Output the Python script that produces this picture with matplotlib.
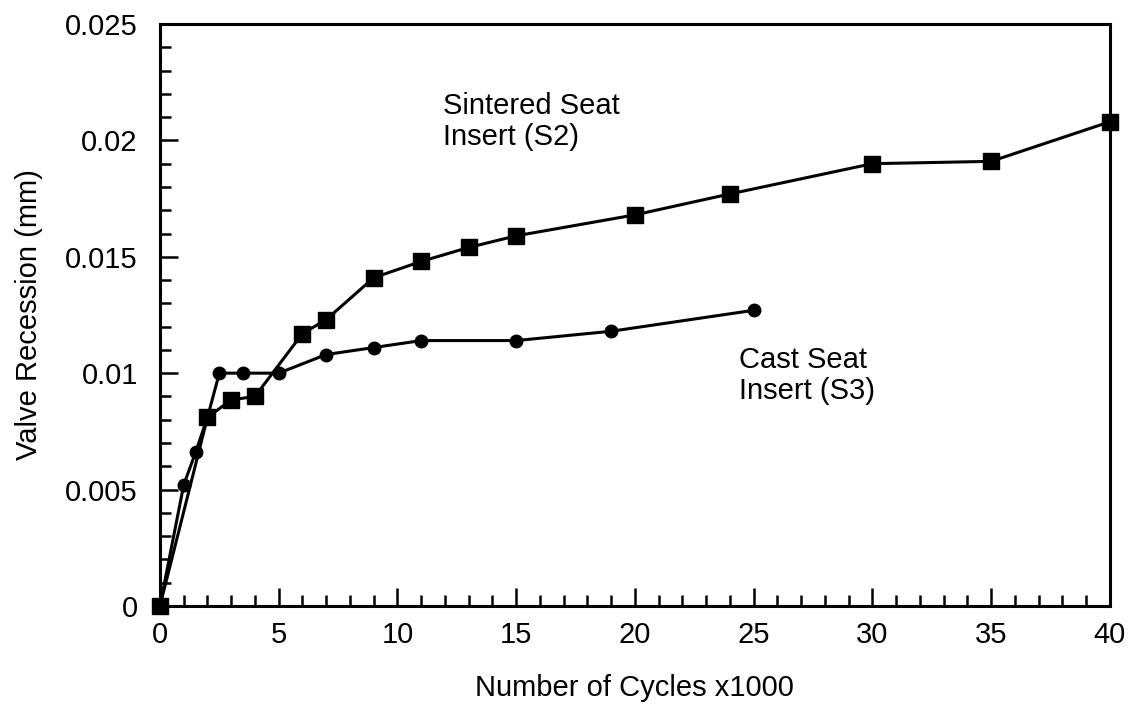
import matplotlib
matplotlib.use("Agg")
import matplotlib.pyplot as plt
from matplotlib.ticker import MultipleLocator, FuncFormatter

plt.rcParams["font.family"] = ["Liberation Sans", "DejaVu Sans"]

# Sintered seat insert (S2), squares
s2_cycles = [0, 2, 3, 4, 6, 7, 9, 11, 13, 15, 20, 24, 30, 35, 40]
s2_recession = [0, 0.0081, 0.00885, 0.0090, 0.0117, 0.0123, 0.0141, 0.0148,
                0.0154, 0.0159, 0.0168, 0.0177, 0.0190, 0.0191, 0.0208]

# Cast seat insert (S3), circles
s3_cycles = [0, 1, 1.5, 2, 2.5, 3.5, 5, 7, 9, 11, 15, 19, 25]
s3_recession = [0, 0.0052, 0.0066, 0.0081, 0.0100, 0.0100, 0.0100, 0.0108,
                0.0111, 0.0114, 0.0114, 0.0118, 0.0127]

fig = plt.figure(figsize=(11.29, 7.07), dpi=100)
ax = fig.add_axes([0.1417, 0.143, 0.8413, 0.823])

ax.plot(s2_cycles, s2_recession, color="black", lw=2.2, marker="s", ms=11,
        clip_on=False, zorder=3)
ax.plot(s3_cycles, s3_recession, color="black", lw=2.2, marker="o", ms=9,
        clip_on=False, zorder=3)

ax.set_xlim(0, 40)
ax.set_ylim(0, 0.025)
ax.xaxis.set_major_locator(MultipleLocator(5))
ax.xaxis.set_minor_locator(MultipleLocator(1))
ax.yaxis.set_major_locator(MultipleLocator(0.005))
ax.yaxis.set_minor_locator(MultipleLocator(0.001))
ax.yaxis.set_major_formatter(FuncFormatter(lambda v, p: "0" if v == 0 else f"{v:g}"))

ax.tick_params(which="both", direction="in", top=False, right=False,
               labelsize=21, width=1.8)
ax.tick_params(axis="x", pad=11)
ax.tick_params(axis="y", pad=16)
ax.tick_params(which="major", length=13)
ax.tick_params(which="minor", length=8)
for s in ax.spines.values():
    s.set_linewidth(2.2)

ax.set_xlabel("Number of Cycles x1000", fontsize=21, labelpad=18)
ax.set_ylabel("Valve Recession (mm)", fontsize=21, labelpad=16)

ax.text(11.9, 0.0208, "Sintered Seat\nInsert (S2)", fontsize=21,
        va="center", ha="left", linespacing=1.15)
ax.text(24.4, 0.0099, "Cast Seat\nInsert (S3)", fontsize=21,
        va="center", ha="left", linespacing=1.15)

fig.savefig("out.png", dpi=100)
